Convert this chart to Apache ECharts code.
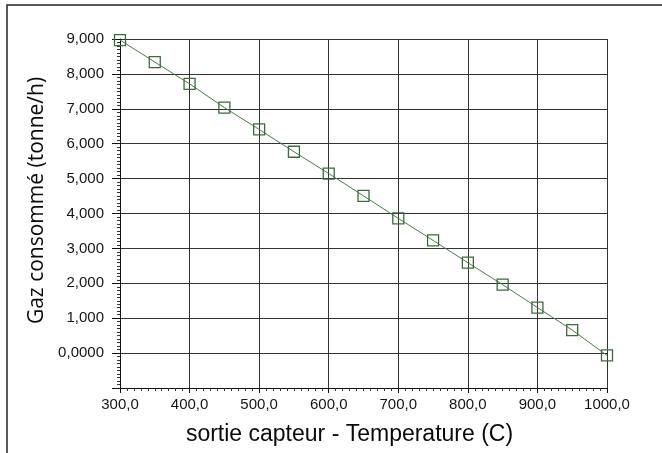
<!DOCTYPE html>
<html>
<head>
<meta charset="utf-8">
<script src="https://cdn.jsdelivr.net/npm/echarts@6/dist/echarts.min.js"></script>
<style>html,body{margin:0;padding:0;background:#fff;}#c{width:662px;height:453px;}</style>
</head>
<body>
<div id="c"></div>
<script>
var temperatures = [300, 350, 400, 450, 500, 550, 600, 650, 700, 750, 800, 850, 900, 950, 1000];
var gasConsumed = [8970, 8340, 7715, 7035, 6410, 5770, 5145, 4505, 3860, 3230, 2590, 1960, 1305, 660, -65];
var yTickLabels = {"-1000": "", "0": "0,0000", "1000": "1,000", "2000": "2,000", "3000": "3,000", "4000": "4,000", "5000": "5,000", "6000": "6,000", "7000": "7,000", "8000": "8,000", "9000": "9,000"};
var xTickLabels = {"300": "300,0", "400": "400,0", "500": "500,0", "600": "600,0", "700": "700,0", "800": "800,0", "900": "900,0", "1000": "1000,0"};
var xName = "sortie capteur - Temperature (C)";
var yName = "Gaz consommé (tonne/h)";

var font = "'Liberation Sans', Arial, sans-serif";
var chart = echarts.init(document.getElementById('c'));
chart.setOption({
  animation: false,
  backgroundColor: '#fff',
  graphic: [{
    type: 'rect', shape: {x: 7, y: 5, width: 700, height: 500},
    style: {fill: null, stroke: '#222', lineWidth: 1.5}, silent: true, z: -1
  }],
  grid: {left: 120, right: 55, top: 39, bottom: 65, show: false},
  xAxis: {
    type: 'value', min: 300, max: 1000, interval: 100,
    name: xName, nameLocation: 'middle', nameGap: 35,
    nameTextStyle: {fontFamily: font, fontSize: 23, color: '#0a0a0a', padding: [0, 0, 0, -28]},
    axisLine: {show: true, onZero: false, lineStyle: {color: '#111', width: 1}},
    axisTick: {show: true, length: 5, lineStyle: {color: '#111'}},
    minorTick: {show: true, splitNumber: 10, length: 3, lineStyle: {color: '#333'}},
    axisLabel: {fontFamily: font, fontSize: 15, color: '#151515', margin: 9,
      formatter: function (v) { return xTickLabels[v] || ''; }},
    splitLine: {show: true, lineStyle: {color: '#333', width: 1}}
  },
  yAxis: {
    type: 'value', min: -1000, max: 9000, interval: 1000,
    name: yName, nameLocation: 'middle', nameGap: 63,
    nameTextStyle: {fontFamily: "'Open Sans', sans-serif", fontSize: 21, color: '#0a0a0a', padding: [0, 0, 0, 26]},
    axisLine: {show: true, onZero: false, lineStyle: {color: '#111', width: 1}},
    axisTick: {show: true, length: 8, lineStyle: {color: '#111'}},
    minorTick: {show: true, splitNumber: 10, length: 3, lineStyle: {color: '#333'}},
    axisLabel: {fontFamily: font, fontSize: 15, color: '#151515', margin: 16,
      formatter: function (v) { return yTickLabels[v] !== undefined ? yTickLabels[v] : ''; }},
    splitLine: {show: true, lineStyle: {color: '#333', width: 1}}
  },
  series: [{
    type: 'line',
    data: temperatures.map(function (t, i) { return [t, gasConsumed[i]]; }),
    symbol: 'rect', symbolSize: 11, showAllSymbol: true,
    lineStyle: {color: '#4a7a4a', width: 1},
    itemStyle: {color: 'rgba(0,0,0,0)', borderColor: '#3d6b3d', borderWidth: 1.3},
    clip: false
  }]
});
</script>
</body>
</html>
